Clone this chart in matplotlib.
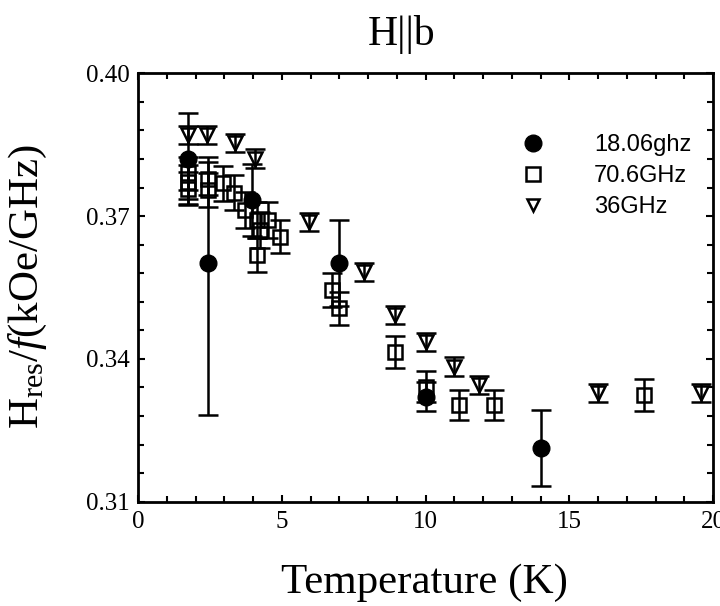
import numpy as np
import matplotlib
matplotlib.use('Agg')
from matplotlib import pyplot as plt
from matplotlib.lines import Line2D
from matplotlib.ticker import MultipleLocator, FixedLocator

plt.rcParams['font.family'] = ['Liberation Serif', 'DejaVu Serif']
plt.rcParams['mathtext.fontset'] = 'custom'
plt.rcParams['mathtext.rm'] = 'Liberation Serif'
plt.rcParams['mathtext.it'] = 'Liberation Serif:italic'

# 18.06 GHz (filled circles)
circ_T = [1.74, 2.44, 3.95, 6.98, 10.0, 14.0]
circ_H = [0.3821, 0.3601, 0.3734, 0.3601, 0.3321, 0.3212]
circ_lo = [0.0095, 0.0319, 0.0075, 0.009, 0.003, 0.008]
circ_hi = [0.0095, 0.0224, 0.0075, 0.009, 0.003, 0.008]

# 70.6 GHz (open squares)
sq_T = [1.74, 1.74, 1.74, 2.44, 2.44, 2.96, 3.35, 3.72, 4.13, 4.53, 4.24,
        4.94, 4.13, 6.74, 6.98, 8.95, 10.0, 11.16, 12.38, 17.61]
sq_H = [0.3790, 0.3772, 0.3758, 0.3779, 0.3755, 0.3769, 0.3749, 0.3713,
        0.3692, 0.3692, 0.3671, 0.3657, 0.3618, 0.3545, 0.3506, 0.3415,
        0.3342, 0.3303, 0.3303, 0.3324]
sq_err = [0.0035, 0.0035, 0.0035, 0.0035, 0.0035, 0.0037, 0.0037, 0.0037,
          0.0037, 0.0037, 0.0037, 0.0035, 0.0035, 0.0035, 0.0035, 0.0034,
          0.0032, 0.0032, 0.0032, 0.0033]

# 36 GHz (open down triangles)
tri_T = [1.74, 2.4, 3.37, 4.07, 5.93, 7.85, 8.95, 10.0, 10.99, 11.86, 15.99, 19.59]
tri_H = [0.3870, 0.3870, 0.3853, 0.3821, 0.3688, 0.3583, 0.3492, 0.3436,
         0.3384, 0.3345, 0.3328, 0.3328]
tri_err = [0.0019] * len(tri_T)

labels = ['18.06ghz', '70.6GHz', '36GHz']
y_ticks = [0.31, 0.34, 0.37, 0.40]

fig = plt.figure(figsize=(7.2, 6.06), dpi=100)
ax = fig.add_axes([0.1917, 0.1721, 0.7986, 0.7069])

lw = 1.8
ax.errorbar(sq_T, sq_H, yerr=sq_err, fmt='s', ms=9.5, mfc='none', mec='k',
            mew=lw, ecolor='k', elinewidth=lw, capsize=7, capthick=lw, zorder=3)
ax.errorbar(tri_T, tri_H, yerr=tri_err, fmt='v', ms=10, mfc='none', mec='k',
            mew=lw, ecolor='k', elinewidth=lw, capsize=7, capthick=lw, zorder=3)
ax.errorbar(circ_T, circ_H, yerr=[circ_lo, circ_hi], fmt='o', ms=12, mfc='k',
            mec='k', ecolor='k', elinewidth=lw, capsize=7, capthick=lw, zorder=4)

ax.set_xlim(0, 20)
ax.set_ylim(0.31, 0.40)
ax.xaxis.set_major_locator(MultipleLocator(5))
ax.xaxis.set_minor_locator(MultipleLocator(1))
ax.yaxis.set_major_locator(FixedLocator(y_ticks))
ax.yaxis.set_minor_locator(FixedLocator(np.linspace(0.31, 0.40, 16)))
ax.yaxis.set_major_formatter(matplotlib.ticker.FormatStrFormatter('%.2f'))
ax.tick_params(which='both', direction='in', top=True, right=True, width=1.5)
ax.tick_params(which='major', length=5, pad=6)
ax.tick_params(axis='y', which='major', labelsize=18)
ax.tick_params(axis='x', which='major', labelsize=18, pad=7)
ax.tick_params(which='minor', length=4)
for s in ax.spines.values():
    s.set_linewidth(2)

handles = [Line2D([], [], ls='none', marker='o', ms=12, mfc='k', mec='k'),
           Line2D([], [], ls='none', marker='s', ms=9.5, mfc='none', mec='k', mew=lw),
           Line2D([], [], ls='none', marker='v', ms=8, mfc='none', mec='k', mew=lw)]
ax.legend(handles, labels, loc='upper left', bbox_to_anchor=(0.645, 0.886),
          frameon=False, borderpad=0, handlelength=1.0, handletextpad=2.1,
          labelspacing=0.38, prop={'family': ['Liberation Sans'], 'size': 17})

fig.text(0.558, 1 - 45 / 606, 'H||b', ha='center', va='baseline', fontsize=30)
fig.text(0.59, 1 - 593 / 606, 'Temperature (K)', ha='center', va='baseline', fontsize=31)
fig.text(28 / 720, 1 - 287 / 606, r'H$_{\rm res}$/$f$(kOe/GHz)', rotation=90,
         ha='center', va='center', fontsize=31)

fig.savefig('out.png', dpi=100)
